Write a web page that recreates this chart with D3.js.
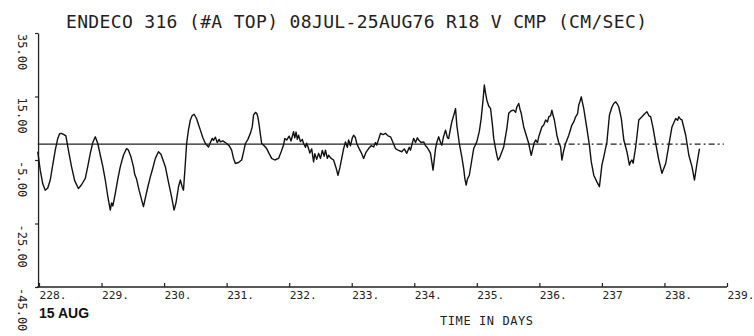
<!DOCTYPE html>
<html>
<head>
<meta charset="utf-8">
<script src="https://cdn.jsdelivr.net/npm/d3@7"></script>
<style>
  body { margin: 0; background: #fff; }
  svg { display: block; }
  .mono { font-family: "DejaVu Sans Mono", "Liberation Mono", monospace; fill: #222; }
</style>
</head>
<body>
<svg id="chart" width="754" height="336"></svg>
<script>
// V component record (day of year, cm/sec)
const days = [
  227.98, 228.02, 228.06, 228.10, 228.14, 228.18, 228.22, 228.26, 228.30, 228.33,
  228.36, 228.40, 228.43, 228.47, 228.52, 228.57, 228.63, 228.68, 228.74, 228.78,
  228.82, 228.86, 228.90, 228.94, 228.98, 229.02, 229.06, 229.10, 229.14, 229.16,
  229.18, 229.22, 229.26, 229.30, 229.35, 229.40, 229.43, 229.47, 229.51, 229.53,
  229.56, 229.60, 229.64, 229.67, 229.70, 229.74, 229.78, 229.82, 229.86, 229.91,
  229.95, 230.02, 230.07, 230.12, 230.16, 230.19, 230.23, 230.26, 230.29, 230.31,
  230.34, 230.36, 230.39, 230.42, 230.45, 230.48, 230.52, 230.55, 230.58, 230.62,
  230.66, 230.71, 230.74, 230.77, 230.79, 230.82, 230.85, 230.88, 230.90, 230.94,
  231.00, 231.04, 231.08, 231.11, 231.14, 231.19, 231.24, 231.27, 231.30, 231.34,
  231.38, 231.41, 231.43, 231.46, 231.48, 231.50, 231.52, 231.54, 231.56, 231.60,
  231.64, 231.68, 231.72, 231.77, 231.83, 231.87, 231.91, 231.93, 231.96, 232.00,
  232.03, 232.07, 232.09, 232.11, 232.13, 232.15, 232.18, 232.21, 232.23, 232.26,
  232.28, 232.31, 232.33, 232.36, 232.39, 232.41, 232.44, 232.47, 232.50, 232.53,
  232.56, 232.58, 232.61, 232.63, 232.67, 232.71, 232.75, 232.78, 232.81, 232.84,
  232.87, 232.90, 232.93, 232.95, 232.98, 233.01, 233.03, 233.06, 233.08, 233.12,
  233.16, 233.19, 233.23, 233.27, 233.31, 233.35, 233.38, 233.40, 233.43, 233.46,
  233.50, 233.54, 233.58, 233.62, 233.66, 233.70, 233.75, 233.80, 233.84, 233.88,
  233.92, 233.94, 233.96, 233.99, 234.02, 234.05, 234.07, 234.11, 234.15, 234.18,
  234.20, 234.23, 234.26, 234.30, 234.34, 234.36, 234.39, 234.42, 234.44, 234.47,
  234.50, 234.53, 234.55, 234.58, 234.60, 234.63, 234.66, 234.68, 234.72, 234.76,
  234.79, 234.81, 234.83, 234.85, 234.88, 234.92, 234.95, 235.00, 235.04, 235.07,
  235.10, 235.12, 235.14, 235.16, 235.19, 235.22, 235.25, 235.27, 235.30, 235.32,
  235.34, 235.36, 235.40, 235.43, 235.48, 235.51, 235.55, 235.59, 235.62, 235.64,
  235.67, 235.69, 235.71, 235.75, 235.79, 235.83, 235.85, 235.87, 235.90, 235.92,
  235.94, 235.97, 235.99, 236.04, 236.07, 236.10, 236.13, 236.15, 236.18, 236.20,
  236.22, 236.24, 236.28, 236.31, 236.34, 236.36, 236.39, 236.42, 236.47, 236.52,
  236.55, 236.58, 236.61, 236.63, 236.65, 236.67, 236.69, 236.71, 236.76, 236.80,
  236.83, 236.87, 236.92, 236.96, 237.00, 237.03, 237.08, 237.12, 237.16, 237.19,
  237.22, 237.25, 237.27, 237.31, 237.35, 237.40, 237.44, 237.46, 237.48, 237.50,
  237.54, 237.59, 237.64, 237.68, 237.72, 237.75, 237.78, 237.82, 237.86, 237.91,
  237.96, 238.02, 238.07, 238.12, 238.18, 238.21, 238.23, 238.26, 238.28, 238.34,
  238.39, 238.44, 238.48, 238.52, 238.56
];
const vcmp = [
  -2.4, -8.2, -12.5, -14.5, -13.8, -11.3, -6.5, -1.9, 1.8, 3.3,
  3.4, 3.0, 2.6, -1.9, -7.1, -11.5, -14.0, -12.8, -10.8, -7.0,
  -2.9, 0.5, 2.3, 0.2, -3.5, -7.0, -11.3, -16.5, -20.8, -18.5,
  -19.5, -15.5, -11.0, -7.1, -3.5, -1.4, -1.9, -4.0, -7.1, -9.5,
  -11.0, -14.5, -17.5, -19.7, -17.0, -13.5, -10.3, -7.5, -4.5, -2.4,
  -3.2, -7.1, -12.0, -16.6, -20.8, -18.5, -13.5, -11.3, -13.5, -14.5,
  -6.0, 0.2, 4.5, 7.6, 9.0, 9.4, 8.0, 6.2, 4.4, 2.0,
  0.2, -0.9, 0.5, 1.8, 1.2, 2.2, 0.5, 1.5, 0.7, 1.0,
  0.2, -0.5, -1.9, -4.5, -6.1, -5.8, -5.0, -2.5, 0.2, 1.5,
  3.4, 5.5, 9.1, 10.0, 9.7, 8.5, 6.0, 3.0, 0.2, -0.5,
  -1.4, -3.0, -4.5, -5.0, -4.5, -2.5, -0.3, 1.8, 1.3, 2.5,
  1.0, 3.9, 2.0, 3.8, 1.5, 2.8, 0.8, 1.5, 0.2, -1.0,
  0.3, -1.4, -2.8, -1.5, -5.6, -3.0, -4.8, -2.9, -4.5, -2.0,
  -3.8, -1.9, -4.5, -3.5, -4.5, -5.0, -7.5, -9.8, -7.5, -4.5,
  -1.5, 0.7, -1.0, 1.3, -0.5, 2.0, 2.8, 2.0, 0.2, -1.5,
  -3.0, -4.5, -2.5, -1.4, -0.5, -0.9, 0.5, -0.3, 1.5, 3.4,
  3.0, 3.4, 2.6, 2.3, 0.5, -1.4, -2.0, -2.4, -1.5, -2.9,
  -1.0, -1.9, -0.3, 1.8, 0.5, 2.0, 1.3, 0.5, 0.7, -0.5,
  -0.9, -1.8, -2.9, -8.2, -1.4, 0.5, 2.3, 0.5, -0.3, 2.5,
  4.4, 2.0, 1.8, 5.0, 7.0, 9.0, 11.2, 6.0, 0.2, -4.0,
  -7.7, -11.0, -12.9, -11.0, -9.8, -5.0, -1.4, 0.7, 4.0, 8.1,
  14.0, 18.6, 16.0, 13.9, 12.0, 11.2, 6.0, 1.8, -1.5, -3.5,
  -5.0, -4.5, -2.5, -0.9, 4.9, 9.7, 10.5, 10.7, 10.0, 11.7,
  12.8, 11.0, 9.7, 5.4, 2.8, 0.2, -1.8, -3.5, -1.0, 0.5,
  1.3, 0.5, 2.3, 5.4, 6.0, 7.6, 7.0, 8.6, 9.0, 10.7,
  9.0, 7.6, 2.8, 0.5, -0.9, -5.0, -2.0, 0.2, 2.8, 6.0,
  7.0, 8.6, 9.5, 12.3, 13.5, 14.9, 13.0, 11.2, 4.9, -0.3,
  -5.6, -9.8, -11.9, -13.4, -6.6, -4.0, 0.7, 9.1, 11.7, 12.8,
  13.3, 12.5, 11.7, 8.1, 1.3, -2.4, -6.6, -5.5, -5.0, -6.0,
  -0.9, 7.6, 8.6, 9.5, 10.2, 9.0, 8.6, 4.9, 0.2, -5.0,
  -9.2, -6.1, -0.3, 5.4, 8.1, 7.5, 8.6, 7.8, 7.6, 2.8,
  -3.5, -7.1, -11.3, -6.1, -1.4
];

const xTicks = [228, 229, 230, 231, 232, 233, 234, 235, 236, 237, 238, 239];
const xTickLabels = ["228.", "229.", "230.", "231.", "232.", "233.", "234.", "235.", "236.", "237", "238.", "239."];
const yTicks = [35, 15, -5, -25, -45];
const yTickLabels = ["35.00", "15.00", "-5.00", "-25.00", "-45.00"];
const title = "ENDECO 316 (#A TOP) 08JUL-25AUG76 R18 V CMP (CM/SEC)";

const svg = d3.select("#chart");

// scales
const x = d3.scaleLinear().domain([228, 239]).range([39, 727]);
const y = d3.scaleLinear().domain([-45, 35]).range([287, 33]);

// title
svg.append("text")
  .attr("class", "mono")
  .attr("x", 66)
  .attr("y", 28)
  .attr("font-size", 18)
  .attr("textLength", 581)
  .attr("lengthAdjust", "spacing")
  .text(title);

// zero reference line, solid then dash-dot like the plot
svg.append("line")
  .attr("x1", x(227.98)).attr("x2", x(236.02))
  .attr("y1", y(0)).attr("y2", y(0))
  .attr("stroke", "#222").attr("stroke-width", 1.2);
svg.append("line")
  .attr("x1", x(236.02)).attr("x2", x(238.95))
  .attr("y1", y(0)).attr("y2", y(0))
  .attr("stroke", "#222").attr("stroke-width", 1.2)
  .attr("stroke-dasharray", "6,3,2,3");

// x axis, ticks pointing up
const xAxis = d3.axisBottom(x)
  .tickValues(xTicks)
  .tickSizeInner(-4)
  .tickSizeOuter(0)
  .tickPadding(4)
  .tickFormat((d, i) => xTickLabels[i]);

const gx = svg.append("g")
  .attr("transform", `translate(0, ${y(-45)})`)
  .call(xAxis);
gx.select(".domain").attr("stroke", "#222").attr("stroke-width", 1.3)
  .attr("d", `M${x(227.97)},0H${x(239)}`);
gx.selectAll(".tick line").attr("stroke", "#222").attr("stroke-width", 1.2);
gx.selectAll(".tick text")
  .attr("class", "mono")
  .attr("font-family", "DejaVu Sans Mono")
  .attr("font-size", 11.2)
  .attr("fill", "#222")
  .attr("text-anchor", "start");

// y axis, labels rotated down the page
const yAxis = d3.axisLeft(y)
  .tickValues(yTicks)
  .tickSizeInner(3)
  .tickSizeOuter(0)
  .tickFormat("");

const gy = svg.append("g")
  .attr("transform", `translate(${x(227.985)}, 0)`)
  .call(yAxis);
gy.select(".domain").attr("stroke", "#222").attr("stroke-width", 1.3);
gy.selectAll(".tick line").attr("stroke", "#222").attr("stroke-width", 1.2);

svg.append("g")
  .selectAll("text")
  .data(yTicks)
  .join("text")
  .attr("class", "mono")
  .attr("font-size", 12)
  .attr("transform", (d) => `translate(18, ${y(d) + 1}) rotate(90)`)
  .text((d, i) => yTickLabels[i]);

// the record
const line = d3.line()
  .x((d, i) => x(days[i]))
  .y((d) => y(d));

svg.append("path")
  .datum(vcmp)
  .attr("d", line)
  .attr("fill", "none")
  .attr("stroke", "#111")
  .attr("stroke-width", 1.4)
  .attr("stroke-linejoin", "round");

// captions below the axis
svg.append("text")
  .attr("x", 39)
  .attr("y", 318)
  .attr("font-family", "Liberation Sans, Arial, sans-serif")
  .attr("font-weight", "bold")
  .attr("font-size", 14)
  .attr("fill", "#111")
  .text("15 AUG");

svg.append("text")
  .attr("class", "mono")
  .attr("x", 440)
  .attr("y", 325)
  .attr("font-size", 12)
  .attr("textLength", 93)
  .attr("lengthAdjust", "spacing")
  .text("TIME IN DAYS");
</script>
</body>
</html>
